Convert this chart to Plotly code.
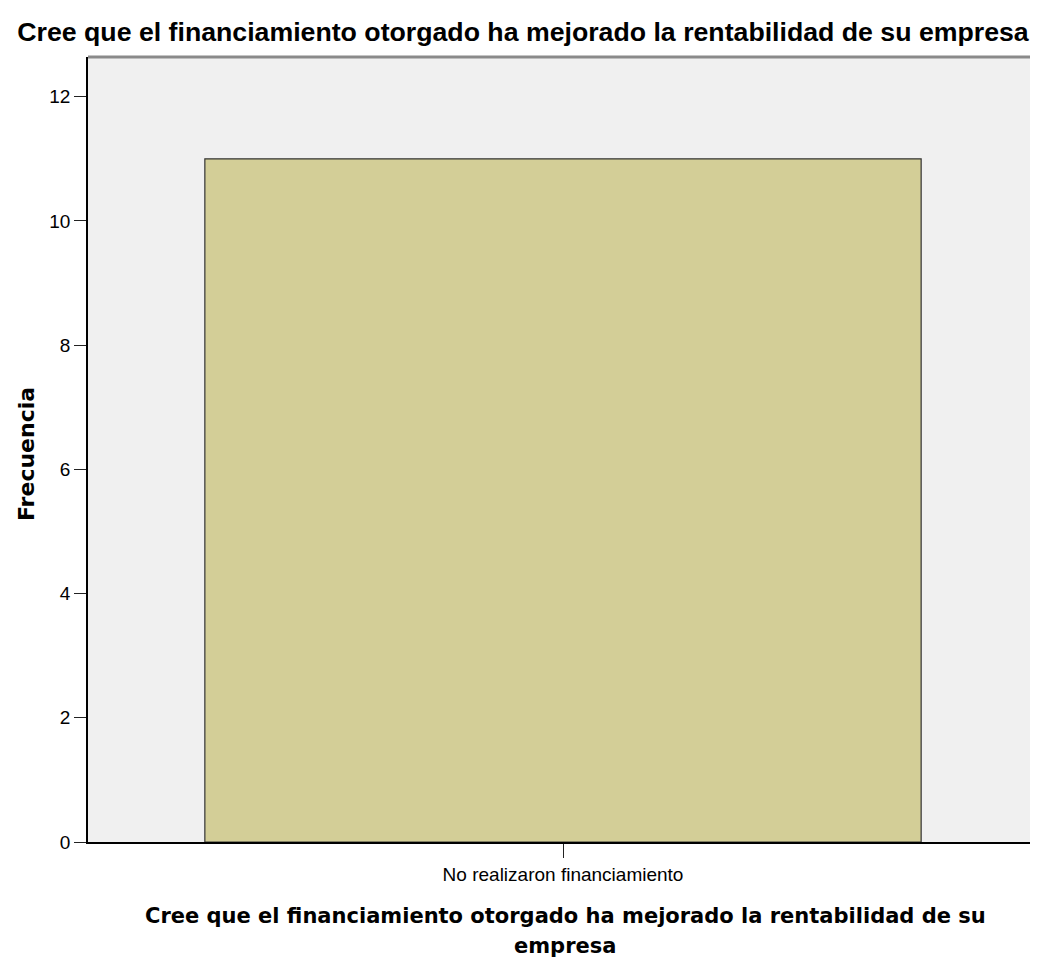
import plotly.graph_objects as go

categories = ["No realizaron financiamiento"]
frecuencia = [11]
y_ticks = [0, 2, 4, 6, 8, 10, 12]

title_text = "Cree que el financiamiento otorgado ha mejorado la rentabilidad de su empresa"
x_title_lines = ["Cree que el financiamiento otorgado ha mejorado la rentabilidad de su", "empresa"]
y_title = "Frecuencia"

sans = "Liberation Sans, Arial, sans-serif"
verd = "DejaVu Sans, Verdana, sans-serif"

# page body has an 8px margin; sizes compensate so the plot fills to the right edge
W, H = 1030, 955
ML, MT, MB = 80, 49, 121
plot_w = W - ML
plot_h = H - MT - MB

fig = go.Figure(go.Bar(
    x=categories, y=frecuencia,
    marker=dict(color="#D3CE97", line=dict(color="#333333", width=1.2)),
))

fig.update_layout(
    width=W, height=H,
    margin=dict(l=ML, r=0, t=MT, b=MB),
    paper_bgcolor="white", plot_bgcolor="#F0F0F0",
    bargap=0.246,
    showlegend=False,
    title=dict(text=title_text, x=0.5, xanchor="center", xref="container",
               y=1 - (32 - 8) / H, yanchor="middle",
               font=dict(family=sans, size=26.7, color="black", weight="bold")),
)
fig.update_xaxes(
    range=[-0.5, 0.5], showline=True, linecolor="black", linewidth=1.5,
    ticks="outside", ticklen=14, tickcolor="#222222", tickwidth=1.2,
    tickfont=dict(family=sans, size=19, color="black"),
    showgrid=False, zeroline=False,
)
fig.update_yaxes(
    range=[0, 12.64], tickvals=y_ticks, showline=True, linecolor="black", linewidth=1.5,
    ticks="outside", ticklen=12, tickcolor="#222222", tickwidth=1.2,
    tickfont=dict(family=sans, size=19, color="black"),
    showgrid=False, zeroline=False,
)
fig.add_shape(type="line", xref="paper", yref="paper", x0=0, x1=1, y0=1, y1=1,
              line=dict(color="#8a8a8a", width=3))

plot_bottom = 842
for line, ypix in zip(x_title_lines, [916, 946]):
    fig.add_annotation(text=line, xref="paper", yref="paper",
                       x=(565 - 88) / plot_w, y=(plot_bottom - ypix) / plot_h,
                       xanchor="center", yanchor="middle", showarrow=False,
                       font=dict(family=verd, size=21, color="black", weight="bold"))

fig.add_annotation(text=y_title, xref="paper", yref="paper",
                   x=(26 - 88) / plot_w, y=(plot_bottom - 454) / plot_h,
                   xanchor="center", yanchor="middle", textangle=-90, showarrow=False,
                   font=dict(family=verd, size=22, color="black", weight="bold"))

fig.write_html("out.html")
